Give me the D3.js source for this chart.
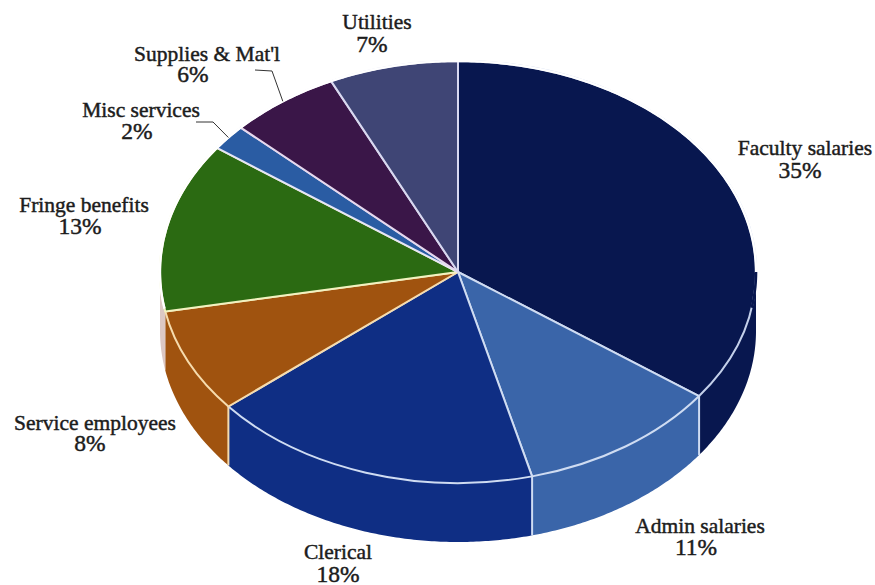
<!DOCTYPE html>
<html>
<head>
<meta charset="utf-8">
<style>
  html, body { margin: 0; padding: 0; background: #fff; }
  text { font-family: "Liberation Serif", serif; fill: #1c1c1c; stroke: #1c1c1c; stroke-width: 0.45px; text-anchor: middle; }
  .name { font-size: 21.5px; }
  .pct { font-size: 23.5px; }
</style>
<script src="https://cdn.jsdelivr.net/npm/d3@7"></script>
</head>
<body>
<svg id="chart" width="875" height="585" style="display:block"></svg>
<script>
// Budget shares, clockwise from twelve o'clock
const categories = ["Faculty salaries", "Admin salaries", "Clerical", "Service employees",
                    "Fringe benefits", "Misc services", "Supplies & Mat'l", "Utilities"];
const shares = [35, 11, 18, 8, 13, 2, 6, 7];
const fills = ["#08174f", "#3a65a9", "#0f2e84", "#a0530f", "#2b6a12", "#2a5ca3", "#3a1648", "#3f4575"];
const edges = ["#c4d0ea", "#cfdcf2", "#cfdcf2", "#f6dcae", "#f2f2c0", "#e6e6f5", "#e6d8ee", "#d8d8f0"];
// The sliver of wall under the green slice is printed almost washed out
const wallFills = ["#08174f", "#3a65a9", "#0f2e84", "#a0530f", "#dcc8c4", "#2a5ca3", "#3a1648", "#3f4575"];

// Label anchors: [name x, name baseline, percent x, percent baseline]
const labelSpots = [
  [805, 155, 800, 178], [700, 533, 696, 555], [338, 559, 338, 582], [95, 430, 90, 451],
  [84, 212, 80, 234], [141, 117, 137, 139], [207, 61, 193, 82], [377, 29, 372, 52]
];
// Elbow of the leader lines, given per category index: [text end x, text end y, elbow x, elbow y]
const leaders = { 5: [196, 122, 213, 122], 6: [255, 70, 272, 71] };

const cx = 458, cy = 272, rx = 298, ry = 211, depth = 59;
const svg = d3.select("#chart");

const pie = d3.pie().sort(null).value(d => d);
const arcs = pie(shares);

const rimX = t => cx + rx * Math.sin(t);
const rimY = t => cy - ry * Math.cos(t);

// Side wall: only the front half of the disc (90deg to 270deg) shows
const wall = d3.area().x(rimX).y0(rimY).y1(t => rimY(t) + depth);
const wallGroup = svg.append("g");
arcs.forEach((a, i) => {
  const from = Math.max(a.startAngle, Math.PI / 2);
  const to = Math.min(a.endAngle, 3 * Math.PI / 2);
  if (from >= to) return;
  const steps = d3.range(from, to, 0.01).concat([to]);
  wallGroup.append("path").attr("d", wall(steps)).attr("fill", wallFills[i]);
});
// Vertical seams between neighbouring wall pieces
const seam = d3.line();
arcs.forEach((a, i) => {
  const t = a.endAngle;
  if (t <= Math.PI / 2 || t >= 3 * Math.PI / 2 || i === 3) return;
  wallGroup.append("path")
    .attr("d", seam([[rimX(t), rimY(t)], [rimX(t), rimY(t) + depth]]))
    .attr("stroke", edges[i + 1]).attr("stroke-width", 2).attr("fill", "none");
});

// Top face: circular arcs squashed into the ellipse
const arc = d3.arc().innerRadius(0).outerRadius(rx);
const topFace = svg.append("g").attr("transform", `translate(${cx},${cy}) scale(1,${ry / rx})`);
topFace.selectAll("path").data(arcs).join("path")
  .attr("d", arc)
  .attr("fill", (d, i) => fills[i])
  .attr("stroke", (d, i) => edges[i])
  .attr("stroke-width", 2)
  .attr("stroke-linejoin", "round")
  .attr("vector-effect", "non-scaling-stroke");

// Back half of the rim blends into the white page, so cover its stroke
const backRim = d3.line().x(rimX).y(rimY);
const deg = d => d * Math.PI / 180;
svg.append("path")
  .attr("d", backRim(d3.range(deg(-100), deg(90.5), 0.01)))
  .attr("fill", "none").attr("stroke", "#fff").attr("stroke-width", 2.4);
// The rim line only starts a little below the widest point on the right
svg.append("path")
  .attr("d", backRim(d3.range(deg(90), deg(100), 0.01)))
  .attr("fill", "none").attr("stroke", fills[0]).attr("stroke-width", 2.6);

// Leader lines run from the label to the middle of the thin slices
Object.entries(leaders).forEach(([k, p]) => {
  const a = arcs[+k], mid = (a.startAngle + a.endAngle) / 2;
  svg.append("path")
    .attr("d", d3.line()([[p[0], p[1]], [p[2], p[3]], [rimX(mid), rimY(mid)]]))
    .attr("fill", "none").attr("stroke", "#333").attr("stroke-width", 1);
});

// Two-line labels: name, then percentage
categories.forEach((name, i) => {
  const s = labelSpots[i];
  svg.append("text").attr("class", "name").attr("x", s[0]).attr("y", s[1]).text(name);
  svg.append("text").attr("class", "pct").attr("x", s[2]).attr("y", s[3]).text(shares[i] + "%");
});
</script>
</body>
</html>
